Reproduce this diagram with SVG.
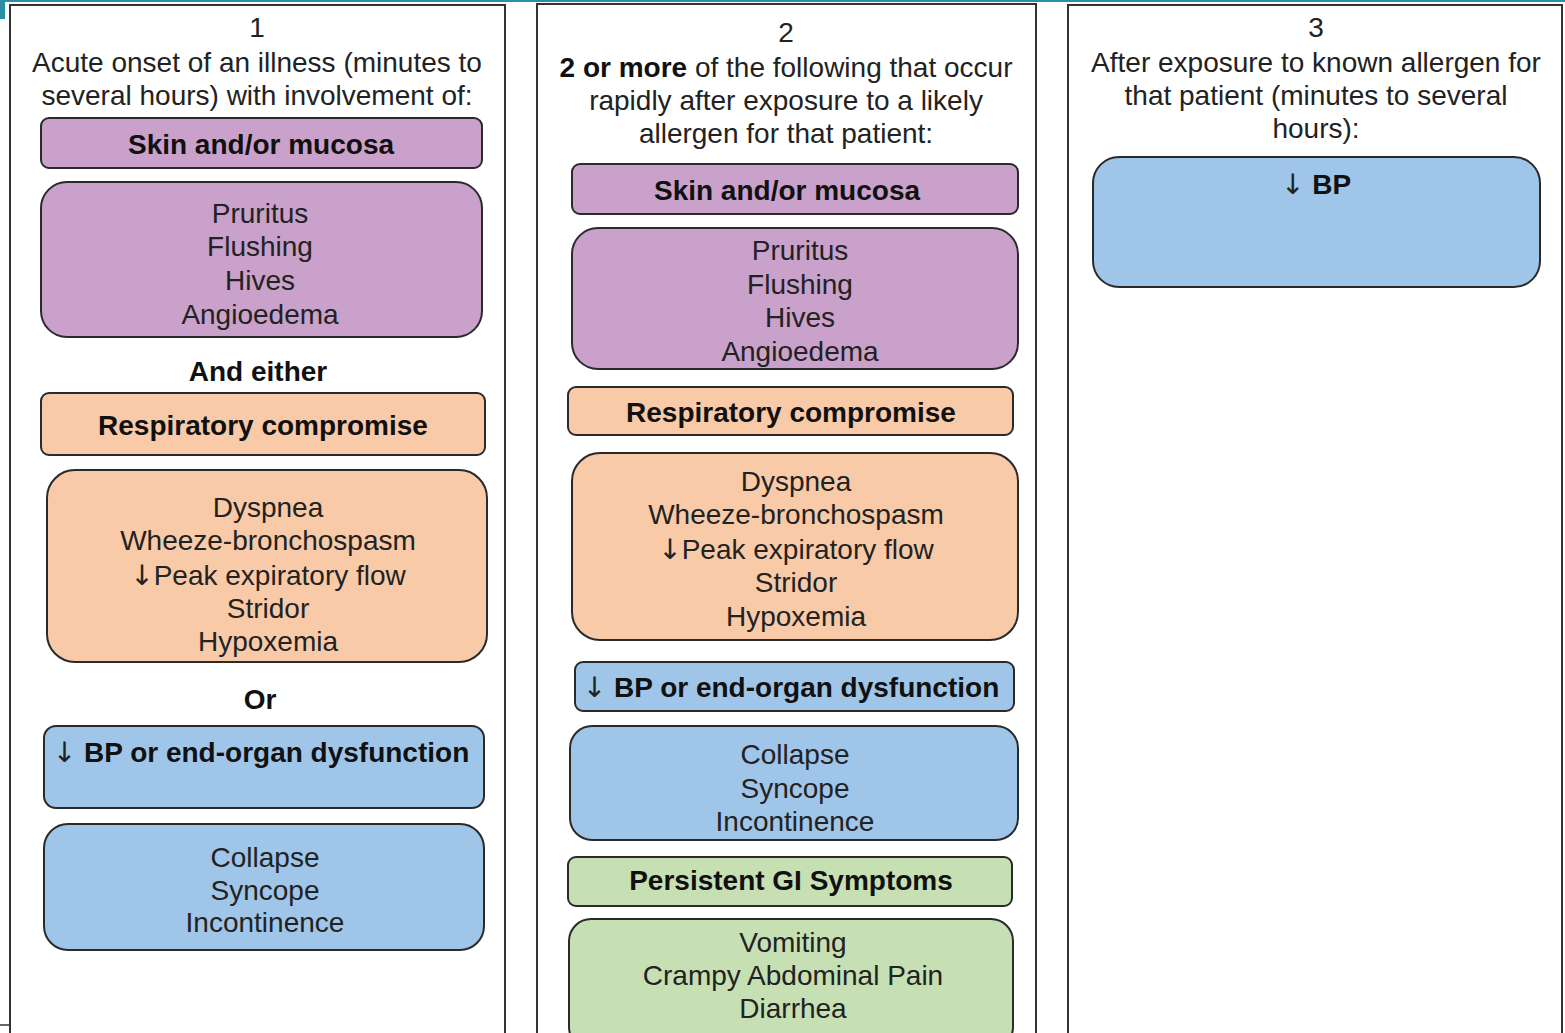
<svg xmlns="http://www.w3.org/2000/svg" width="1565" height="1033" viewBox="0 0 1565 1033">
<style>
text{font-family:"Liberation Sans",Arial,sans-serif;font-size:28px;fill:#222;text-anchor:middle}
.b{font-weight:bold;fill:#111}
.n{font-weight:normal;font-family:"DejaVu Sans",sans-serif;fill:#222}
.panel{fill:#fff;stroke:#333;stroke-width:2}
.box{stroke:#2a2a2a;stroke-width:2}
.pu{fill:#c9a1cb}.or{fill:#f8caa8}.bl{fill:#9fc5e8}.gr{fill:#c6e0b4}
</style>
<rect x="0" y="0" width="1565" height="1033" fill="#fff"/>
<rect x="0" y="0" width="1565" height="2" fill="#2a8fa0"/>
<rect x="0" y="0" width="5" height="19" fill="#2a8fa0"/>
<line x1="0" y1="1025" x2="9" y2="1025" stroke="#333" stroke-width="1.5"/>

<g id="panel1">
<rect class="panel" x="10" y="5" width="495" height="1040"/>
<text x="257" y="37">1</text>
<text x="257" y="72">Acute onset of an illness (minutes to</text>
<text x="257" y="105">several hours) with involvement of:</text>
</g>
<g id="p1-skin"><rect class="box pu" x="41" y="118" width="441" height="50" rx="8"/><text class="b" x="261" y="154">Skin and/or mucosa</text></g>
<g id="p1-skin-list"><rect class="box pu" x="41" y="182" width="441" height="155" rx="26"/>
<text x="260" y="223">Pruritus</text><text x="260" y="256">Flushing</text><text x="260" y="290">Hives</text><text x="260" y="324">Angioedema</text></g>
<g id="p1-and"><text class="b" x="258" y="381">And either</text></g>
<g id="p1-resp"><rect class="box or" x="41" y="393" width="444" height="62" rx="8"/><text class="b" x="263" y="435">Respiratory compromise</text></g>
<g id="p1-resp-list"><rect class="box or" x="47" y="470" width="440" height="192" rx="28"/>
<text x="268" y="517">Dyspnea</text><text x="268" y="550">Wheeze-bronchospasm</text><text x="268" y="585"><tspan class="n">↓</tspan>Peak expiratory flow</text><text x="268" y="618">Stridor</text><text x="268" y="651">Hypoxemia</text></g>
<g id="p1-or"><text class="b" x="260" y="709">Or</text></g>
<g id="p1-bp"><rect class="box bl" x="44" y="726" width="440" height="82" rx="12"/><text class="b" x="261" y="762"><tspan class="n">↓</tspan> BP or end-organ dysfunction</text></g>
<g id="p1-bp-list"><rect class="box bl" x="44" y="824" width="440" height="126" rx="24"/>
<text x="265" y="867">Collapse</text><text x="265" y="900">Syncope</text><text x="265" y="932">Incontinence</text></g>

<g id="panel2">
<rect class="panel" x="537" y="4" width="499" height="1040"/>
<text x="786" y="42">2</text>
<text x="786" y="77"><tspan class="b">2 or more</tspan> of the following that occur</text>
<text x="786" y="110">rapidly after exposure to a likely</text>
<text x="786" y="143">allergen for that patient:</text>
</g>
<g id="p2-skin"><rect class="box pu" x="572" y="164" width="446" height="50" rx="8"/><text class="b" x="787" y="200">Skin and/or mucosa</text></g>
<g id="p2-skin-list"><rect class="box pu" x="572" y="228" width="446" height="141" rx="26"/>
<text x="800" y="260">Pruritus</text><text x="800" y="294">Flushing</text><text x="800" y="327">Hives</text><text x="800" y="361">Angioedema</text></g>
<g id="p2-resp"><rect class="box or" x="568" y="387" width="445" height="48" rx="8"/><text class="b" x="791" y="422">Respiratory compromise</text></g>
<g id="p2-resp-list"><rect class="box or" x="572" y="453" width="446" height="187" rx="28"/>
<text x="796" y="491">Dyspnea</text><text x="796" y="524">Wheeze-bronchospasm</text><text x="796" y="559"><tspan class="n">↓</tspan>Peak expiratory flow</text><text x="796" y="592">Stridor</text><text x="796" y="626">Hypoxemia</text></g>
<g id="p2-bp"><rect class="box bl" x="575" y="662" width="439" height="49" rx="8"/><text class="b" x="791" y="697"><tspan class="n">↓</tspan> BP or end-organ dysfunction</text></g>
<g id="p2-bp-list"><rect class="box bl" x="570" y="726" width="448" height="114" rx="22"/>
<text x="795" y="764">Collapse</text><text x="795" y="798">Syncope</text><text x="795" y="831">Incontinence</text></g>
<g id="p2-gi"><rect class="box gr" x="568" y="857" width="444" height="49" rx="8"/><text class="b" x="791" y="890">Persistent GI Symptoms</text></g>
<g id="p2-gi-list"><rect class="box gr" x="569" y="919" width="444" height="130" rx="22"/>
<text x="793" y="952">Vomiting</text><text x="793" y="985">Crampy Abdominal Pain</text><text x="793" y="1018">Diarrhea</text></g>

<g id="panel3">
<rect class="panel" x="1068" y="5" width="494" height="1040"/>
<text x="1316" y="37">3</text>
<text x="1316" y="72">After exposure to known allergen for</text>
<text x="1316" y="105">that patient (minutes to several</text>
<text x="1316" y="138">hours):</text>
</g>
<g id="p3-bp"><rect class="box bl" x="1093" y="157" width="447" height="130" rx="26"/><text class="b" x="1316" y="194"><tspan class="n">↓</tspan> BP</text></g>
<g id="connectors"></g>
</svg>
